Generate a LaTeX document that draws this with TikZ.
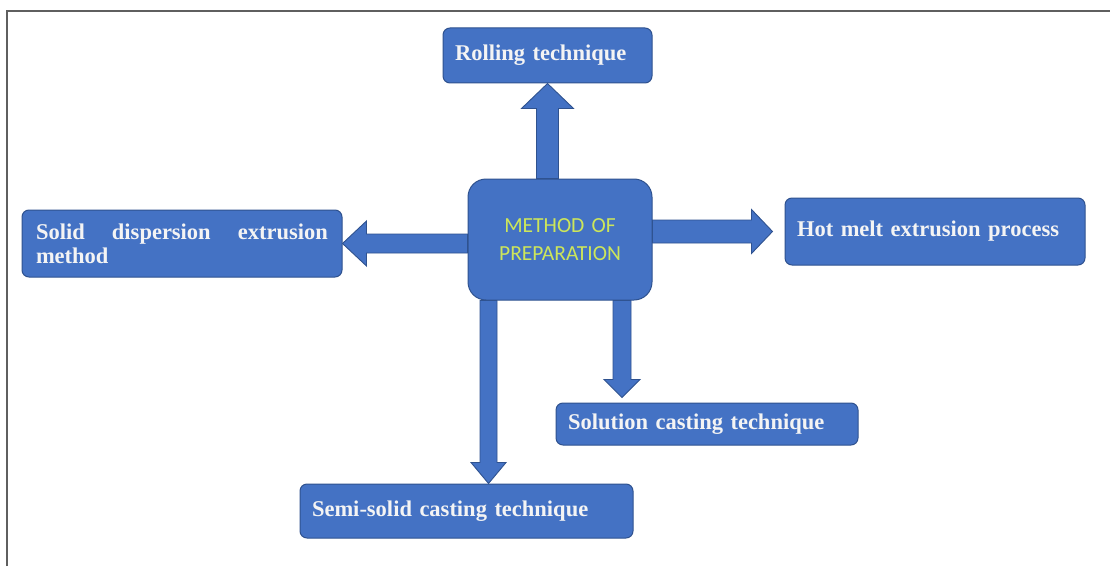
\documentclass[tikz,border=0pt]{standalone}
\usepackage{fontspec}
\setmainfont{Liberation Serif}
\newfontfamily\calfont{Carlito}
\usetikzlibrary{calc,backgrounds}
\definecolor{boxblue}{RGB}{68,114,196}
\definecolor{boxedge}{RGB}{47,82,143}
\definecolor{boxtext}{RGB}{244,244,244}
\definecolor{centertext}{RGB}{205,230,90}
\definecolor{framegray}{RGB}{95,95,95}
\newcommand\blockarr[5]{%
  \path ($(#2)!#5!(#1)$) coordinate (hb);
  \draw[arrowbody] ($(#1)!#3!90:(#2)$) -- ($(hb)!#3!90:(#2)$) -- ($(hb)!#4!90:(#2)$) -- (#2)
     -- ($(hb)!#4!-90:(#2)$) -- ($(hb)!#3!-90:(#2)$) -- ($(#1)!#3!-90:(#2)$) -- cycle;}
\tikzset{
  bluebox/.style={draw=boxedge, line width=1pt, fill=boxblue, rounded corners=7pt,
    text=boxtext, font=\fontsize{22.5}{24}\selectfont\bfseries, inner xsep=12pt, inner ysep=0pt,
    align=left, anchor=center},
  arrowbody/.style={draw=boxedge, line width=0.9pt, fill=boxblue, line join=miter}
}
\begin{document}
\begin{tikzpicture}[x=1pt,y=1pt]
\useasboundingbox (0,0) rectangle (1110,566);

\node[bluebox, minimum width=209pt, minimum height=55pt, text width=185pt] (roll) at (547.5,510.5) {Rolling technique};
\node[bluebox, rounded corners=18pt, minimum width=184pt, minimum height=121pt, text width=160pt,
  align=center, font=\calfont\fontsize{21.5}{28}\selectfont, text=centertext] (cen) at (560,326.5) {METHOD OF\\PREPARATION};
\node[bluebox, minimum width=320pt, minimum height=67pt, text width=292pt] (solid) at (182,322.5)
  {Solid\hfill dispersion\hfill extrusion\\method};
\node[bluebox, minimum width=300pt, minimum height=67pt, text width=276pt] (hot) at (935,334.5) {Hot melt extrusion process};
\node[bluebox, minimum width=302pt, minimum height=42pt, text width=278pt] (sol) at (707,142) {Solution casting technique};
\node[bluebox, minimum width=333pt, minimum height=54pt, text width=309pt] (semi) at (466.5,55) {Semi-solid casting technique};

\coordinate (upS) at (roll.south |- cen.north);
\coordinate (upE) at (roll.south);
\coordinate (lfS) at (solid.east -| cen.west);
\coordinate (lfE) at (solid.east);
\coordinate (rtS) at (hot.west -| cen.east);
\coordinate (rtE) at ($(hot.west)+(-12,0)$);
\coordinate (d1S) at ($(cen.south)+(-71.5,0)$);
\coordinate (d1E) at (d1S |- semi.north);
\coordinate (d2S) at ($(cen.south)+(62,0)$);
\coordinate (d2E) at ($(d2S |- sol.north)+(0,5)$);

\begin{pgfonlayer}{background}
\fill[white] (0,0) rectangle (1110,566);
\draw[framegray, line width=1.6pt] (7,0) -- (7,555) -- (1110,555);
\blockarr{upS}{upE}{11pt}{26pt}{25pt}
\blockarr{lfS}{lfE}{9.5pt}{22.5pt}{24pt}
\blockarr{rtS}{rtE}{11.5pt}{22pt}{21pt}
\blockarr{d1S}{d1E}{8.5pt}{17.5pt}{21pt}
\blockarr{d2S}{d2E}{9pt}{18pt}{18pt}
\end{pgfonlayer}
\end{tikzpicture}
\end{document}
